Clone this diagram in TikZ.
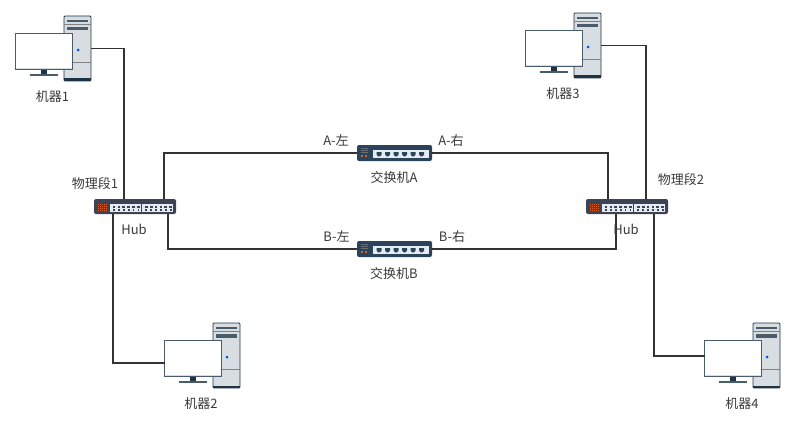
\documentclass[tikz,border=0pt]{standalone}
\usepackage{fontspec}
\setmainfont{Noto Sans CJK SC}
\usetikzlibrary{positioning,calc}
\definecolor{LineDark}{HTML}{333333}
\definecolor{TextDark}{HTML}{3A3A3A}
\definecolor{TowerFill}{HTML}{D8DDE2}
\definecolor{TowerEdge}{HTML}{1F3346}
\definecolor{ScreenEdge}{HTML}{4A5B6B}
\definecolor{HubBody}{HTML}{3E4353}
\definecolor{SwitchBody}{HTML}{2C4459}
\definecolor{PanelFill}{HTML}{E4ECF3}
\definecolor{LedOrange}{HTML}{D9622B}
\tikzset{link/.style={draw=LineDark, line width=1.8pt}}
\tikzset{tag/.style={text=TextDark, font=\fontsize{13}{15}\selectfont, inner sep=0pt}}
\tikzset{pics/computer/.style={code={%
    \node (tower) at (13.5,32.5) [draw=TowerEdge, fill=TowerFill, line width=0.9pt, rounded corners=1pt,
        minimum width=27pt, minimum height=65pt, outer sep=0pt, inner sep=0pt] {};
    \fill[TowerEdge] (0,62.5) rectangle (27,65);
    \fill[ScreenEdge] (3,4.4) rectangle (24,6);
    \fill[ScreenEdge] (3,11) rectangle (24,14.5);
    \draw[gray, line width=0.6pt] (0,8.5) -- (27,8.5);
    \draw[gray, line width=0.6pt] (0,46) -- (27,46);
    \fill[blue!70!cyan] (14,34) circle (1.5pt);
    \fill[TowerEdge] (-23,53) rectangle (-17,58);
    \fill[ScreenEdge] (-34,58) rectangle (-6,60);
    \node (screen) at (-20,35.25) [draw=ScreenEdge, fill=white, line width=0.9pt,
        minimum width=57pt, minimum height=36.5pt, outer sep=0pt, inner sep=0pt] {};
    \fill[TowerFill] (-48,51.8) rectangle (8,53);
}}}
\tikzset{pics/hub/.style={code={%
    \node (body) at (41,7.5) [fill=HubBody, rounded corners=2pt,
        minimum width=82pt, minimum height=15pt, outer sep=0pt, inner sep=0pt] {};
    \foreach \x in {0,...,4} {
        \foreach \y in {0,...,3} {
            \fill[LedOrange] ({3.5+\x*2},{4.6+\y*2}) rectangle +(1.1,1.1);
        }
    }
    \fill[PanelFill] (16,5) rectangle (46.5,13);
    \fill[PanelFill] (48,5) rectangle (79,13);
    \foreach \x in {0,...,5} {
        \fill[HubBody] ({18.6+\x*4.9},6.6) rectangle +(2.8,2.6);
        \fill[HubBody] ({19.2+\x*4.9},10) rectangle +(1.6,1.6);
        \fill[HubBody] ({50.8+\x*4.9},6.6) rectangle +(2.8,2.6);
        \fill[HubBody] ({51.4+\x*4.9},10) rectangle +(1.6,1.6);
    }
}}}
\tikzset{pics/switch/.style={code={%
    \node (body) at (37.5,8) [fill=SwitchBody, rounded corners=2pt,
        minimum width=75pt, minimum height=16pt, outer sep=0pt, inner sep=0pt] {};
    \fill[LedOrange] (4,10) rectangle +(1.8,1.8);
    \fill[LedOrange] (8,10) rectangle +(1.8,1.8);
    \foreach \y in {3,5,7} {
        \draw[gray!70!SwitchBody, line width=0.4pt] (4,\y) -- (11,\y);
    }
    \fill[PanelFill] (16.3,5) rectangle (72,13.3);
    \foreach \x in {0,...,5} {
        \fill[SwitchBody] ({19.6+\x*8.5},7) -- +(5,0) -- +(5,2.5) -- +(3.5,4.4) -- +(1.5,4.4) -- +(0,2.5) -- cycle;
    }
}}}
\begin{document}
\begin{tikzpicture}[x=1pt, y=-1pt]
    \useasboundingbox (0,0) rectangle (796,428);

    % hosts
    \pic (m1) at (64,16) {computer};
    \pic (m2) at (213,323) {computer};
    \pic (m3) at (574,13) {computer};
    \pic (m4) at (753,323) {computer};

    % hubs and switches
    \pic (hub1) at (94,199) {hub};
    \pic (hub2) at (586,199) {hub};
    \pic (swa) at (357,145) {switch};
    \pic (swb) at (357,241) {switch};

    % cables
    \draw[link] (m1tower.east) -| ([xshift=-11pt]hub1body.north);
    \draw[link] (m3tower.east) -| ([xshift=19pt]hub2body.north);
    \draw[link] ([xshift=-22pt]hub1body.south) |- ([yshift=-4.5pt]m2screen.west);
    \draw[link] ([xshift=27pt]hub2body.south) |- ([yshift=2.5pt]m4screen.west);
    \draw[link] ([xshift=29pt]hub1body.north) |- (swabody.west);
    \draw[link] (swabody.east) -| ([xshift=-19pt]hub2body.north);
    \draw[link] ([xshift=33pt]hub1body.south) |- (swbbody.west);
    \draw[link] (swbbody.east) -| ([xshift=-11pt]hub2body.south);

    % labels
    \node (m1label) at (52.5,96.7) [tag] {机器1};
    \node (m2label) at (201,403.7) [tag] {机器2};
    \node (m3label) at (563,93.7) [tag] {机器3};
    \node (m4label) at (742,403.7) [tag] {机器4};
    \node (hub1name) at (95,183.7) [tag] {物理段1};
    \node (hub2name) at (681,179.7) [tag] {物理段2};
    \node (hub1label) at (134,229.7) [tag] {Hub};
    \node (hub2label) at (626,229.7) [tag] {Hub};
    \node (swaname) at (394,177.7) [tag] {交换机A};
    \node (swbname) at (394,273.7) [tag] {交换机B};
    \node (swaleft) at (336,140.7) [tag] {A-左};
    \node (swaright) at (451,140.7) [tag] {A-右};
    \node (swbleft) at (336.5,236.7) [tag] {B-左};
    \node (swbright) at (452,236.7) [tag] {B-右};
\end{tikzpicture}
\end{document}
